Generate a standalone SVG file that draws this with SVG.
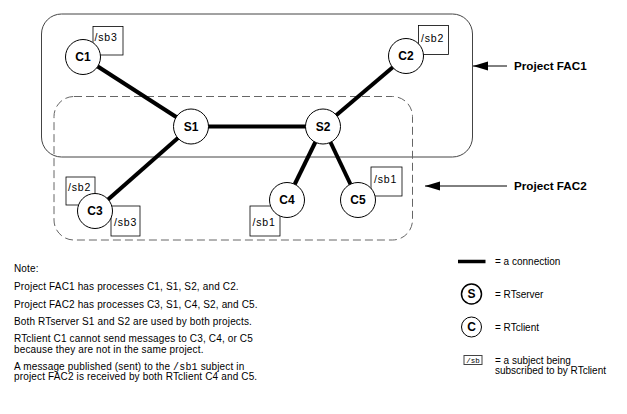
<svg xmlns="http://www.w3.org/2000/svg" width="627" height="414" viewBox="0 0 627 414">
<defs>
<style>
.proj1{fill:none;stroke:#444;stroke-width:1}
.proj2{fill:none;stroke:#666;stroke-width:1;stroke-dasharray:8 4}
.conn{stroke:#000;stroke-width:4;stroke-linecap:butt}
.node{fill:#fff;stroke:#000;stroke-width:1}
.sub{fill:#fff;stroke:#000;stroke-width:0.8}
.nl{font-family:"Liberation Sans",Arial,sans-serif;font-weight:bold;font-size:12px;text-anchor:middle;fill:#000}
.sl{font-family:"Liberation Sans",Arial,sans-serif;font-size:10.5px;letter-spacing:0.8px;fill:#000}
.pl{font-family:"Liberation Sans",Arial,sans-serif;font-weight:bold;font-size:11.7px;fill:#000}
.note{font-family:"Liberation Sans",Arial,sans-serif;font-size:10px;letter-spacing:0.15px;fill:#000}
.leg{font-family:"Liberation Sans",Arial,sans-serif;font-size:10px;fill:#000}
.mono{font-family:"Liberation Mono","Courier New",monospace}
.arr{stroke:#000;stroke-width:1;fill:none;marker-end:url(#ah)}
</style>
<marker id="ah" markerWidth="16" markerHeight="10" refX="15" refY="5" orient="auto" markerUnits="userSpaceOnUse">
<path d="M0,0.5 L15,5 L0,9.5 Z" fill="#000"/>
</marker>
</defs>
<rect width="627" height="414" fill="#fff"/>

<g id="projects">
<rect id="project-fac1" class="proj1" x="41.5" y="14" width="431" height="143" rx="20"/>
<rect id="project-fac2" class="proj2" x="54" y="96.5" width="358.5" height="143.5" rx="20"/>
<path class="arr" d="M507,66 L473,66"/>
<text class="pl" x="514" y="70">Project FAC1</text>
<path class="arr" d="M507,186 L425,186"/>
<text class="pl" x="514" y="190">Project FAC2</text>
</g>

<g id="connectors">
<line class="conn" x1="83" y1="57" x2="191" y2="126.5"/>
<line class="conn" x1="191" y1="126.5" x2="323" y2="126.5"/>
<line class="conn" x1="323" y1="126.5" x2="406" y2="56"/>
<line class="conn" x1="191" y1="126.5" x2="95" y2="211"/>
<line class="conn" x1="323" y1="126.5" x2="287" y2="200"/>
<line class="conn" x1="323" y1="126.5" x2="358" y2="200"/>
</g>

<g id="C1">
<rect class="sub" x="93" y="26.5" width="30" height="28.5"/>
<text class="sl" x="94.5" y="41">/sb3</text>
<circle class="node" cx="83" cy="57" r="17.5"/>
<text class="nl" x="83" y="61.2">C1</text>
</g>
<g id="C2">
<rect class="sub" x="418.5" y="25.5" width="30" height="29"/>
<text class="sl" x="421" y="41.5">/sb2</text>
<circle class="node" cx="406" cy="56" r="17.5"/>
<text class="nl" x="406" y="60.2">C2</text>
</g>
<g id="S1">
<circle class="node" cx="191" cy="126.5" r="17.5"/>
<text class="nl" x="191" y="130.7">S1</text>
</g>
<g id="S2">
<circle class="node" cx="323" cy="126.5" r="17.5"/>
<text class="nl" x="323" y="130.7">S2</text>
</g>
<g id="C3">
<rect class="sub" x="66" y="177" width="29" height="28"/>
<text class="sl" x="68" y="190.5">/sb2</text>
<rect class="sub" x="111" y="206" width="29" height="30"/>
<text class="sl" x="114" y="226">/sb3</text>
<circle class="node" cx="95" cy="211" r="17.5"/>
<text class="nl" x="95" y="215.2">C3</text>
</g>
<g id="C4">
<rect class="sub" x="250" y="206" width="30" height="30"/>
<text class="sl" x="252.5" y="226">/sb1</text>
<circle class="node" cx="287" cy="200" r="17.5"/>
<text class="nl" x="287" y="204.2">C4</text>
</g>
<g id="C5">
<rect class="sub" x="371" y="167" width="31" height="29"/>
<text class="sl" x="374" y="183">/sb1</text>
<circle class="node" cx="358" cy="200" r="17.5"/>
<text class="nl" x="358" y="204.2">C5</text>
</g>

<g id="notes">
<text class="note" x="14" y="271.5">Note:</text>
<text class="note" x="14" y="290">Project FAC1 has processes C1, S1, S2, and C2.</text>
<text class="note" x="14" y="307.5">Project FAC2 has processes C3, S1, C4, S2, and C5.</text>
<text class="note" x="14" y="325">Both RTserver S1 and S2 are used by both projects.</text>
<text class="note" x="14" y="342">RTclient C1 cannot send messages to C3, C4, or C5</text>
<text class="note" x="14" y="352.8">because they are not in the same project.</text>
<text class="note" x="14" y="369.5">A message published (sent) to the <tspan class="mono">/sb1</tspan> subject in</text>
<text class="note" x="14" y="380.3">project FAC2 is received by both RTclient C4 and C5.</text>
</g>

<g id="legend">
<line x1="458" y1="261.5" x2="485.5" y2="261.5" stroke="#000" stroke-width="3.5"/>
<text class="leg" x="495" y="264.5">= a connection</text>
<circle cx="471.5" cy="294" r="10" fill="#fff" stroke="#000" stroke-width="1.5"/>
<text class="nl" x="471.5" y="298.3">S</text>
<text class="leg" x="495" y="297.5">= RTserver</text>
<circle cx="471.5" cy="327" r="10" fill="#fff" stroke="#000" stroke-width="1"/>
<text class="nl" x="471.5" y="331.3">C</text>
<text class="leg" x="495" y="330.5">= RTclient</text>
<rect x="464" y="355.5" width="18" height="9" fill="#fff" stroke="#444" stroke-width="1"/>
<text x="473" y="362.8" font-family="Liberation Mono, monospace" font-size="7.5" text-anchor="middle" fill="#000">/sb</text>
<text class="leg" x="495" y="363.5">= a subject being</text>
<text class="leg" x="495" y="374">subscribed to by RTclient</text>
</g>
</svg>
